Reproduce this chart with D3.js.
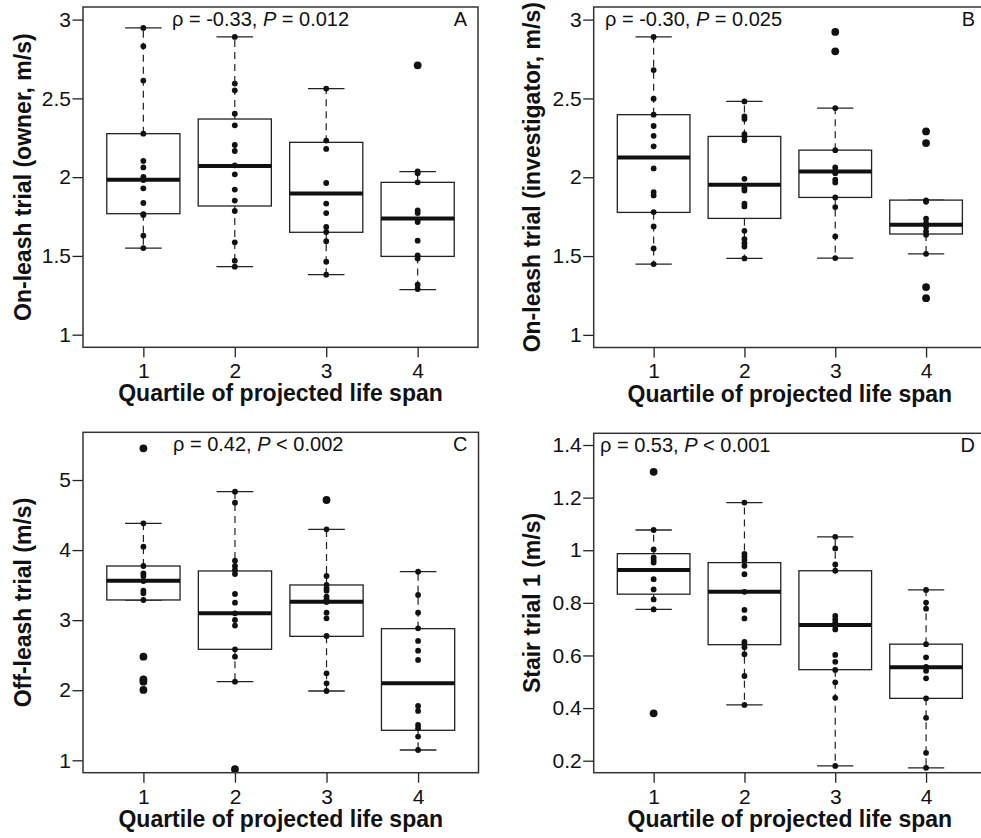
<!DOCTYPE html>
<html>
<head>
<meta charset="utf-8">
<script src="https://cdn.jsdelivr.net/npm/d3@7"></script>
<style>
  body { margin: 0; background: #fff; }
  text { font-family: "Liberation Sans", Arial, sans-serif; fill: #111; }
</style>
</head>
<body>
<div id="output"></div>
<script>
const quartiles = [1, 2, 3, 4];

// A: on-leash trial, owner
const ownerPoints = [
  [2.947, 2.831, 2.613, 2.276, 2.103, 2.062, 2.001, 1.982, 1.929, 1.836, 1.765, 1.760, 1.629, 1.550],
  [2.890, 2.594, 2.551, 2.403, 2.329, 2.204, 2.166, 2.075, 2.018, 1.921, 1.851, 1.785, 1.586, 1.470, 1.432],
  [2.562, 2.232, 2.179, 1.963, 1.832, 1.772, 1.684, 1.652, 1.593, 1.463, 1.381],
  [2.037, 2.024, 1.967, 1.789, 1.772, 1.730, 1.715, 1.597, 1.504, 1.483, 1.317, 1.290]
];
const ownerOutliers = [[], [], [], [2.710]];
// [lower whisker, Q1, median, Q3, upper whisker]
const ownerBoxes = [
  [1.550, 1.768, 1.984, 2.276, 2.947],
  [1.432, 1.817, 2.071, 2.369, 2.890],
  [1.381, 1.650, 1.897, 2.221, 2.562],
  [1.286, 1.497, 1.737, 1.967, 2.035]
];

// B: on-leash trial, investigator
const investigatorPoints = [
  [2.890, 2.680, 2.498, 2.397, 2.325, 2.263, 2.196, 2.056, 1.906, 1.885, 1.779, 1.688, 1.548, 1.449],
  [2.481, 2.386, 2.369, 2.274, 2.259, 2.234, 1.990, 1.931, 1.916, 1.832, 1.815, 1.660, 1.607, 1.582, 1.561, 1.485],
  [2.439, 2.172, 2.062, 2.041, 2.026, 1.984, 1.967, 1.872, 1.811, 1.624, 1.487],
  [1.853, 1.844, 1.737, 1.709, 1.684, 1.656, 1.635, 1.514]
];
const investigatorOutliers = [[], [], [2.922, 2.799], [2.291, 2.217, 1.303, 1.233]];
const investigatorBoxes = [
  [1.449, 1.777, 2.126, 2.397, 2.890],
  [1.485, 1.739, 1.952, 2.259, 2.481],
  [1.487, 1.872, 2.037, 2.172, 2.439],
  [1.514, 1.640, 1.698, 1.855, 1.855]
];

// C: off-leash trial
const offLeashPoints = [
  [4.382, 4.049, 3.773, 3.668, 3.630, 3.559, 3.421, 3.383, 3.288],
  [4.834, 4.677, 3.849, 3.773, 3.716, 3.659, 3.373, 3.250, 3.098, 3.002, 2.922, 2.584, 2.479, 2.122],
  [4.296, 3.630, 3.502, 3.454, 3.421, 3.335, 3.297, 3.259, 3.107, 3.026, 2.774, 2.241, 2.099, 1.989],
  [3.692, 3.359, 3.107, 2.883, 2.703, 2.565, 2.432, 1.775, 1.704, 1.504, 1.457, 1.338, 1.147]
];
const offLeashOutliers = [[5.452, 2.479, 2.156, 2.122, 2.004], [0.872], [4.715], []];
const offLeashBoxes = [
  [3.288, 3.288, 3.564, 3.773, 4.382],
  [2.122, 2.584, 3.098, 3.702, 4.834],
  [1.989, 2.769, 3.264, 3.502, 4.296],
  [1.147, 1.428, 2.099, 2.879, 3.692]
];

// D: stair trial 1
const stairPoints = [
  [1.077, 1.003, 0.973, 0.963, 0.953, 0.890, 0.851, 0.813, 0.775],
  [1.181, 0.986, 0.975, 0.963, 0.941, 0.909, 0.842, 0.773, 0.741, 0.652, 0.643, 0.631, 0.605, 0.522, 0.412],
  [1.051, 1.007, 0.946, 0.922, 0.750, 0.737, 0.725, 0.712, 0.699, 0.602, 0.576, 0.545, 0.498, 0.439, 0.180],
  [0.849, 0.801, 0.778, 0.643, 0.593, 0.557, 0.542, 0.513, 0.437, 0.363, 0.230, 0.173]
];
const stairOutliers = [[1.298, 0.380], [], [], []];
const stairBoxes = [
  [0.775, 0.833, 0.925, 0.987, 1.077],
  [0.412, 0.641, 0.842, 0.953, 1.181],
  [0.180, 0.546, 0.716, 0.922, 1.051],
  [0.173, 0.437, 0.555, 0.643, 0.849]
];

const onLeashTicks = [1, 1.5, 2, 2.5, 3];
const offLeashTicks = [1, 2, 3, 4, 5];
const stairTicks = [0.2, 0.4, 0.6, 0.8, 1, 1.2, 1.4];

const xTitle = "Quartile of projected life span";

const svg = d3.select("#output").append("svg")
  .attr("width", 981)
  .attr("height", 838);

const ink = "#222";

plotPanel({
  left: 83, right: 478, top: 7, bottom: 347.3,
  domain: [0.92, 3.08], ticks: onLeashTicks,
  points: ownerPoints, outliers: ownerOutliers, boxes: ownerBoxes,
  yTitle: "On-leash trial (owner, m/s)", titleX: 31,
  stat: ["\u03C1 = -0.33, ", "P", " = 0.012"], statX: 172, letter: "A"
});
plotPanel({
  left: 593.7, right: 986, top: 7, bottom: 347.5,
  domain: [0.92, 3.08], ticks: onLeashTicks,
  points: investigatorPoints, outliers: investigatorOutliers, boxes: investigatorBoxes,
  yTitle: "On-leash trial (investigator, m/s)", titleX: 540,
  stat: ["\u03C1 = -0.30, ", "P", " = 0.025"], statX: 605, letter: "B"
});
plotPanel({
  left: 83, right: 478.5, top: 432.3, bottom: 772.7,
  domain: [0.823, 5.681], ticks: offLeashTicks,
  points: offLeashPoints, outliers: offLeashOutliers, boxes: offLeashBoxes,
  yTitle: "Off-leash trial (m/s)", titleX: 31,
  stat: ["\u03C1 = 0.42, ", "P", " < 0.002"], statX: 173, letter: "C"
});
plotPanel({
  left: 593.7, right: 986, top: 433.3, bottom: 772.7,
  domain: [0.1544, 1.4445], ticks: stairTicks,
  points: stairPoints, outliers: stairOutliers, boxes: stairBoxes,
  yTitle: "Stair trial 1 (m/s)", titleX: 540,
  stat: ["\u03C1 = 0.53, ", "P", " < 0.001"], statX: 600, letter: "D"
});

function plotPanel(p) {
  const x = d3.scaleLinear().domain([0.34, 4.66]).range([p.left, p.right]);
  const y = d3.scaleLinear().domain(p.domain).range([p.bottom, p.top]);
  const boxW = x(1.8) - x(1);
  const g = svg.append("g");

  // axes
  const yAxis = g.append("g")
    .attr("transform", `translate(${p.left},0)`)
    .call(d3.axisLeft(y).tickValues(p.ticks).tickSize(10.5).tickPadding(1.5).tickSizeOuter(0).tickFormat(d3.format("~g")));
  const xAxis = g.append("g")
    .attr("transform", `translate(0,${p.bottom})`)
    .call(d3.axisBottom(x).tickValues(quartiles).tickSize(10).tickPadding(6).tickSizeOuter(0).tickFormat(d3.format("d")));
  [yAxis, xAxis].forEach(a => {
    a.select(".domain").remove();
    a.selectAll("line").attr("stroke", ink).attr("stroke-width", 1.3);
    a.selectAll("text").style("font-size", "21px").attr("fill", "#111");
  });

  // whiskers
  const whisk = g.append("g");
  quartiles.forEach((q, i) => {
    const b = p.boxes[i];
    whisk.append("line")
      .attr("x1", x(q)).attr("x2", x(q))
      .attr("y1", y(b[3])).attr("y2", y(b[4]))
      .attr("stroke", ink).attr("stroke-width", 1.2).attr("stroke-dasharray", "7,5");
    whisk.append("line")
      .attr("x1", x(q)).attr("x2", x(q))
      .attr("y1", y(b[1])).attr("y2", y(b[0]))
      .attr("stroke", ink).attr("stroke-width", 1.2).attr("stroke-dasharray", "7,5");
    [b[0], b[4]].forEach(v => {
      whisk.append("line")
        .attr("x1", x(q) - boxW / 4).attr("x2", x(q) + boxW / 4)
        .attr("y1", y(v)).attr("y2", y(v))
        .attr("stroke", ink).attr("stroke-width", 1.3);
    });
  });

  // boxes
  g.selectAll(".box")
    .data(p.boxes)
    .enter().append("rect")
    .attr("class", "box")
    .attr("x", (d, i) => x(quartiles[i]) - boxW / 2)
    .attr("y", d => y(d[3]))
    .attr("width", boxW)
    .attr("height", d => y(d[1]) - y(d[3]))
    .attr("fill", "#fff")
    .attr("stroke", ink)
    .attr("stroke-width", 1.3);

  g.selectAll(".median")
    .data(p.boxes)
    .enter().append("line")
    .attr("class", "median")
    .attr("x1", (d, i) => x(quartiles[i]) - boxW / 2)
    .attr("x2", (d, i) => x(quartiles[i]) + boxW / 2)
    .attr("y1", d => y(d[2]))
    .attr("y2", d => y(d[2]))
    .attr("stroke", "#111")
    .attr("stroke-width", 4);

  // outliers (large) and data points (small)
  p.outliers.forEach((vals, i) => {
    g.selectAll(null)
      .data(vals)
      .enter().append("circle")
      .attr("cx", x(quartiles[i]))
      .attr("cy", d => y(d))
      .attr("r", 3.9)
      .attr("fill", "#111");
  });
  p.points.forEach((vals, i) => {
    g.selectAll(null)
      .data(vals)
      .enter().append("circle")
      .attr("cx", x(quartiles[i]))
      .attr("cy", d => y(d))
      .attr("r", 2.9)
      .attr("fill", "#111");
  });

  // frame
  g.append("rect")
    .attr("x", p.left).attr("y", p.top)
    .attr("width", p.right - p.left)
    .attr("height", p.bottom - p.top)
    .attr("fill", "none")
    .attr("stroke", "#333")
    .attr("stroke-width", 1.5);

  // titles
  g.append("text")
    .attr("x", (p.left + p.right) / 2)
    .attr("y", p.bottom + 54)
    .attr("text-anchor", "middle")
    .style("font-size", "23px")
    .style("font-weight", "bold")
    .text(xTitle);

  g.append("text")
    .attr("transform", `translate(${p.titleX},${(p.top + p.bottom) / 2}) rotate(-90)`)
    .attr("text-anchor", "middle")
    .style("font-size", "23px")
    .style("font-weight", "bold")
    .text(p.yTitle);

  const stat = g.append("text")
    .attr("x", p.statX)
    .attr("y", p.top + 19)
    .style("font-size", "20px");
  stat.append("tspan").text(p.stat[0]);
  stat.append("tspan").style("font-style", "italic").text(p.stat[1]);
  stat.append("tspan").text(p.stat[2]);

  g.append("text")
    .attr("x", p.right - 11)
    .attr("y", p.top + 19)
    .attr("text-anchor", "end")
    .style("font-size", "20px")
    .text(p.letter);
}
</script>
</body>
</html>
